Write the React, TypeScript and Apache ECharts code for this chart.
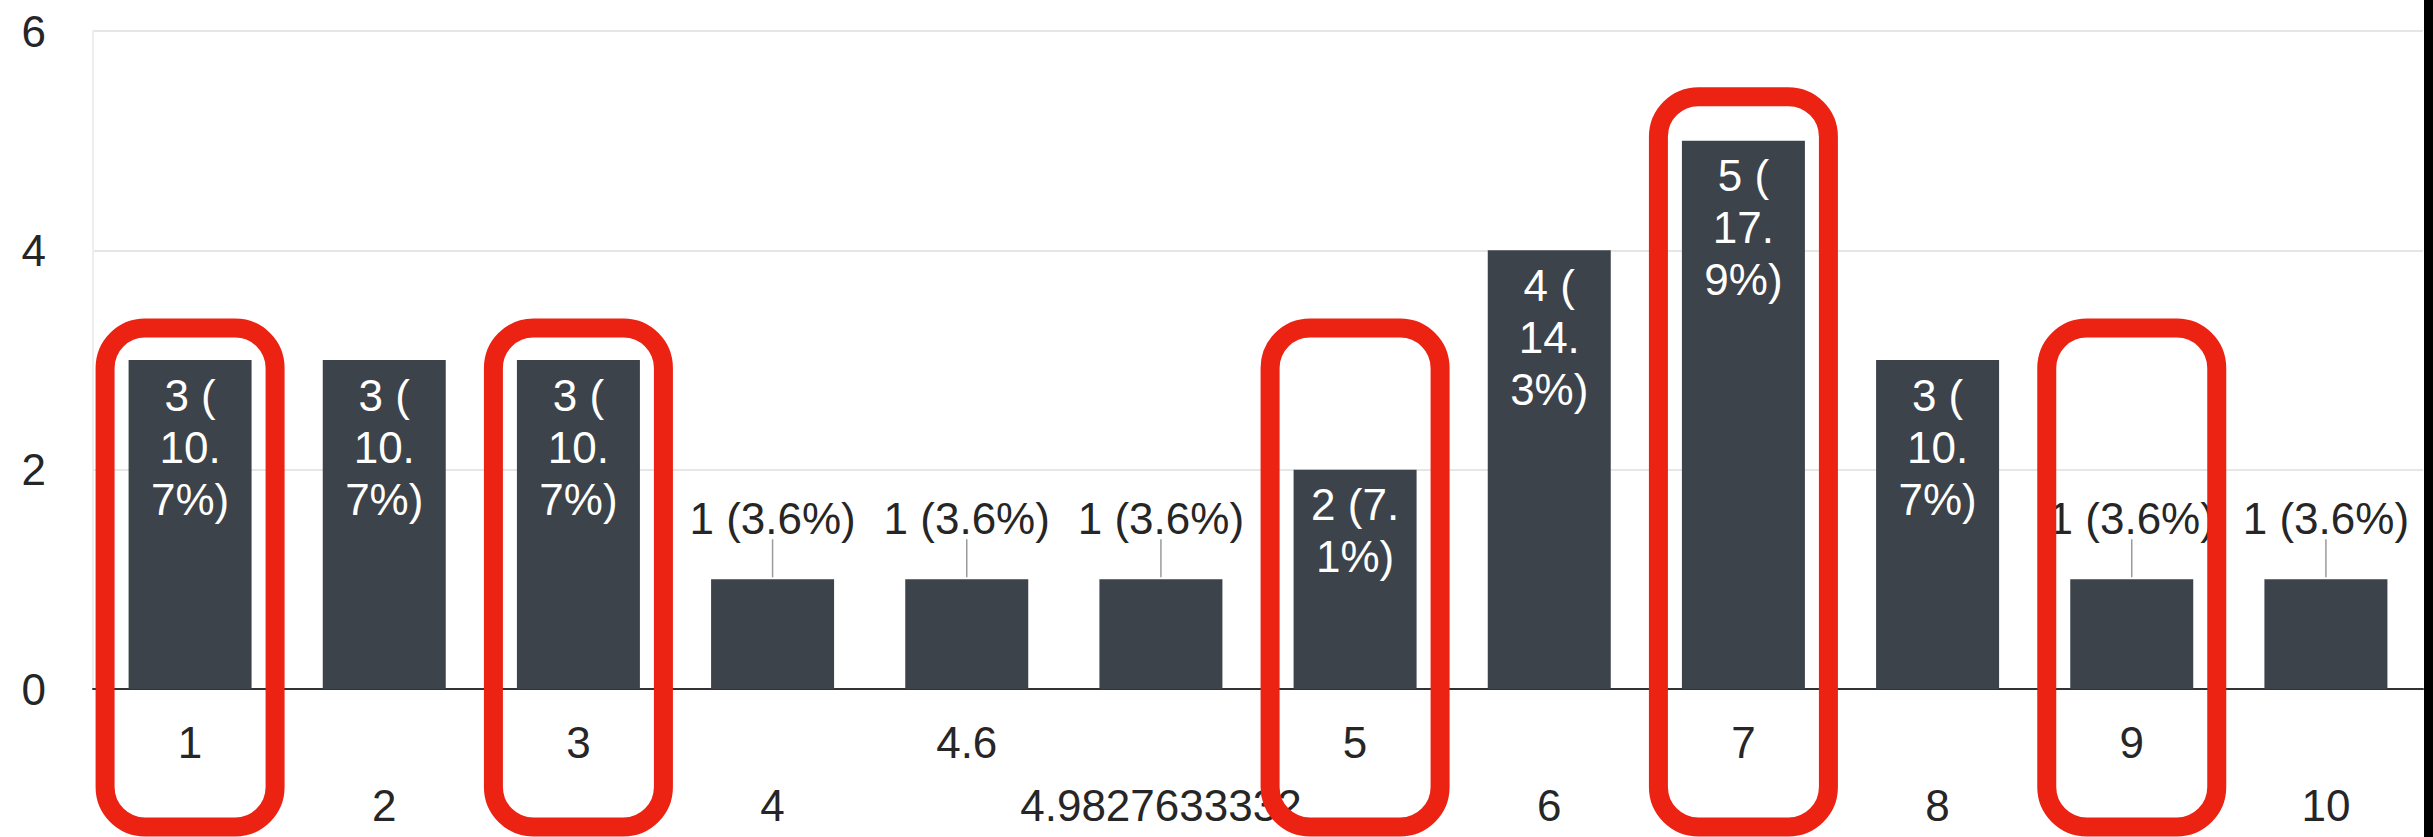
import React, { useEffect, useRef } from "react";
import * as echarts from "echarts";

const categories = ["1", "2", "3", "4", "4.6", "4.9827633332", "5", "6", "7", "8", "9", "10"];
const counts = [3, 3, 3, 1, 1, 1, 2, 4, 5, 3, 1, 1];
const barLabels = [
  "3 (\n10.\n7%)",
  "3 (\n10.\n7%)",
  "3 (\n10.\n7%)",
  "1 (3.6%)",
  "1 (3.6%)",
  "1 (3.6%)",
  "2 (7.\n1%)",
  "4 (\n14.\n3%)",
  "5 (\n17.\n9%)",
  "3 (\n10.\n7%)",
  "1 (3.6%)",
  "1 (3.6%)",
];
const yMin = 0;
const yMax = 6;
const yStep = 2;
const highlighted = ["1", "3", "5", "7", "9"];

const FONT = "'Liberation Sans', Arial, Helvetica, sans-serif";
const BAR = "#3c434a";
const RED = "#ec2213";

export default function App() {
  const ref = useRef<HTMLDivElement>(null);

  useEffect(() => {
    if (!ref.current) return;
    const chart = echarts.init(ref.current, undefined, { renderer: "svg" });

    const insideLabel = {
      show: true,
      position: "insideTop",
      distance: 9,
      color: "#ffffff",
      fontSize: 44,
      lineHeight: 52,
      fontFamily: FONT,
      formatter: (p: any) => barLabels[p.dataIndex],
    };
    const outsideLabel = {
      show: true,
      position: "top",
      distance: 39,
      color: "#262626",
      fontSize: 44,
      lineHeight: 44,
      fontFamily: FONT,
      formatter: (p: any) => barLabels[p.dataIndex],
    };

    const leaderData = counts
      .map((v, i) => [i, v])
      .filter((d) => d[1] < 2);

    chart.setOption({
      animation: false,
      backgroundColor: "#ffffff",
      grid: { left: 93, right: 10, top: 31, bottom: 140, containLabel: false },
      xAxis: {
        type: "category",
        data: categories,
        axisTick: { show: false },
        axisLine: { show: true, lineStyle: { color: "#333333", width: 2 } },
        axisLabel: {
          interval: 0,
          margin: 22,
          color: "#262626",
          fontSize: 44,
          lineHeight: 63,
          fontFamily: FONT,
          formatter: (v: string, i: number) => (i % 2 === 0 ? v : "\n" + v),
        },
      },
      yAxis: {
        type: "value",
        min: yMin,
        max: yMax,
        interval: yStep,
        axisLine: { show: true, lineStyle: { color: "#eeeeee", width: 2 } },
        axisTick: { show: false },
        splitLine: { show: true, lineStyle: { color: "#e6e6e6", width: 2 } },
        axisLabel: {
          margin: 47,
          color: "#262626",
          fontSize: 44,
          fontFamily: FONT,
        },
      },
      series: [
        {
          type: "bar",
          barWidth: 123,
          itemStyle: { color: BAR },
          data: counts.map((v) => ({
            value: v,
            label: v >= 2 ? insideLabel : outsideLabel,
          })),
        },
        {
          type: "custom",
          silent: true,
          data: leaderData,
          renderItem: (params: any, api: any) => {
            const p = api.coord([api.value(0), api.value(1)]);
            return {
              type: "line",
              shape: { x1: p[0], y1: p[1] - 2, x2: p[0], y2: p[1] - 40 },
              style: { stroke: "#9a9a9a", lineWidth: 1.5 },
            };
          },
        },
      ],
    });

    const boxes = highlighted.map((c) => {
      const idx = categories.indexOf(c);
      const cx = chart.convertToPixel({ xAxisIndex: 0 }, c) as number;
      const top = chart.convertToPixel({ yAxisIndex: 0 }, counts[idx]) as number;
      const y = counts[idx] > 4 ? top - 44 : 328;
      return {
        type: "rect",
        z: 100,
        shape: { x: cx - 85, y, width: 170, height: 827 - y, r: 40 },
        style: { fill: "none", stroke: RED, lineWidth: 19 },
      };
    });

    chart.setOption({
      graphic: [
        ...boxes,
        {
          type: "rect",
          z: 101,
          shape: { x: 2424, y: 0, width: 9, height: 837 },
          style: { fill: "#000000" },
        },
      ],
    });

    return () => chart.dispose();
  }, []);

  return (
    <div
      ref={ref}
      style={{ position: "fixed", left: 0, top: 0, width: 2433, height: 837, background: "#fff" }}
    />
  );
}
